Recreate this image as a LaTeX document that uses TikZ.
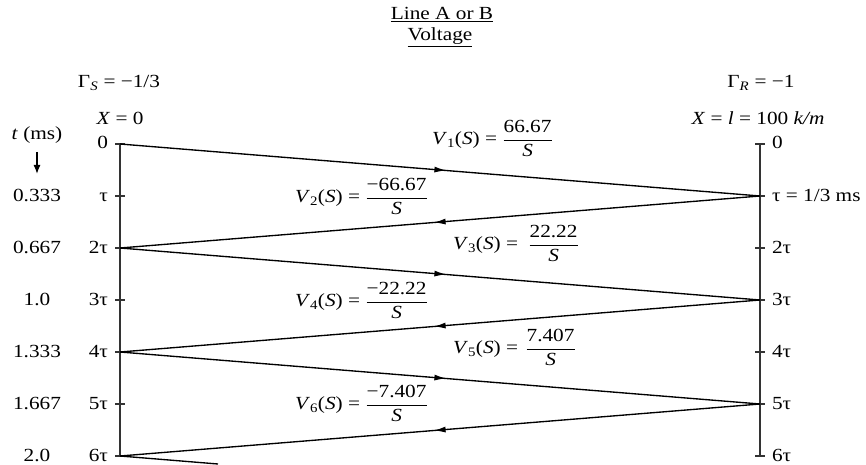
\documentclass[tikz,border=0pt]{standalone}
\usepackage{fontspec}
\setmainfont[FakeStretch=1.15]{Liberation Serif}
\usetikzlibrary{arrows.meta,decorations.markings}
\begin{document}
\begin{tikzpicture}[x=1pt,y=-1pt,
  every node/.style={font=\fontsize{18.5}{22}\selectfont, inner sep=0pt, outer sep=0pt},
  axisline/.style={line width=1.4pt, black!80},
  tickmark/.style={line width=1.2pt, black!80},
  wave/.style={line width=1.35pt, postaction={decorate},
    decoration={markings, mark=at position 0.51 with {\arrow{Latex[length=12pt,width=6pt]}}}},
  plainwave/.style={line width=1.35pt},
  downarrow/.style={line width=1.3pt, -{Latex[length=9pt,width=7pt]}}]
\useasboundingbox (0,0) rectangle (866,465);

% title
\node[anchor=base] (title1) at (442,20) {\underline{Line A or B}};
\node[anchor=base] (title2) at (440,41) {\underline{Voltage}};

% headers
\node[anchor=base] (gs) at (119,88) {Γ\textsubscript{\textit{S}} = −1/3};
\node[anchor=base] (gr) at (761,88) {Γ\textsubscript{\textit{R}} = −1};
\node[anchor=base] (x0) at (120,125) {\textit{X} = 0};
\node[anchor=base] (xl) at (758,125) {\textit{X} = \textit{l} = 100 \textit{k/m}};

% time column
\node[anchor=base] (tms) at (37,140) {\textit{t} (ms)};
\coordinate (ta) at (37,152);
\coordinate (tb) at (37,174);
\draw[downarrow] (ta) -- (tb);
\foreach \k/\t in {1/0.333,2/0.667,3/1.0,4/1.333,5/1.667,6/2.0}{
  \node[anchor=base] (tc\k) at (37,{149+52*\k}) {\t};
}

% axis coordinates
\foreach \k in {0,...,6}{
  \coordinate (L\k) at (120,{144+52*\k});
  \coordinate (R\k) at (760,{144+52*\k});
}
\draw[axisline] (L0) -- (L6);
\draw[axisline] (R0) -- (R6);
\foreach \k in {0,...,6}{
  \draw[tickmark] ([xshift=-5pt]L\k) -- ([xshift=5pt]L\k);
  \draw[tickmark] ([xshift=-5pt]R\k) -- ([xshift=5pt]R\k);
}

% tick labels
\foreach \k/\t in {0/0,1/τ,2/2τ,3/3τ,4/4τ,5/5τ,6/6τ}{
  \node[anchor=base east] (ll\k) at (108,{149+52*\k}) {\t};
}
\foreach \k/\t in {0/0,1/{τ = 1/3 ms},2/2τ,3/3τ,4/4τ,5/5τ,6/6τ}{
  \node[anchor=base west] (rl\k) at (772,{149+52*\k}) {\t};
}

% bounce lines
\coordinate (tail) at (218,464);
\draw[wave] (L0) -- (R1);
\draw[wave] (R1) -- (L2);
\draw[wave] (L2) -- (R3);
\draw[wave] (R3) -- (L4);
\draw[wave] (L4) -- (R5);
\draw[wave] (R5) -- (L6);
\draw[plainwave] (L6) -- (tail);

% voltage labels
\node[anchor=base west] (v1) at (432,144.6) {\textit{V}\textsubscript{1}(\textit{S}) = $\displaystyle\frac{\mbox{66.67}}{\mbox{\itshape S}}$};
\node[anchor=base west] (v2) at (295,202.6) {\textit{V}\textsubscript{2}(\textit{S}) = $\displaystyle\frac{\mbox{−66.67}}{\mbox{\itshape S}}$};
\node[anchor=base west] (v3) at (453,249.6) {\textit{V}\textsubscript{3}(\textit{S}) = \hspace{5pt}$\displaystyle\frac{\mbox{22.22}}{\mbox{\itshape S}}$};
\node[anchor=base west] (v4) at (295,306.6) {\textit{V}\textsubscript{4}(\textit{S}) = $\displaystyle\frac{\mbox{−22.22}}{\mbox{\itshape S}}$};
\node[anchor=base west] (v5) at (453,353.6) {\textit{V}\textsubscript{5}(\textit{S}) = \hspace{2pt}$\displaystyle\frac{\mbox{7.407}}{\mbox{\itshape S}}$};
\node[anchor=base west] (v6) at (295,409.6) {\textit{V}\textsubscript{6}(\textit{S}) = $\displaystyle\frac{\mbox{−7.407}}{\mbox{\itshape S}}$};
\end{tikzpicture}
\end{document}
